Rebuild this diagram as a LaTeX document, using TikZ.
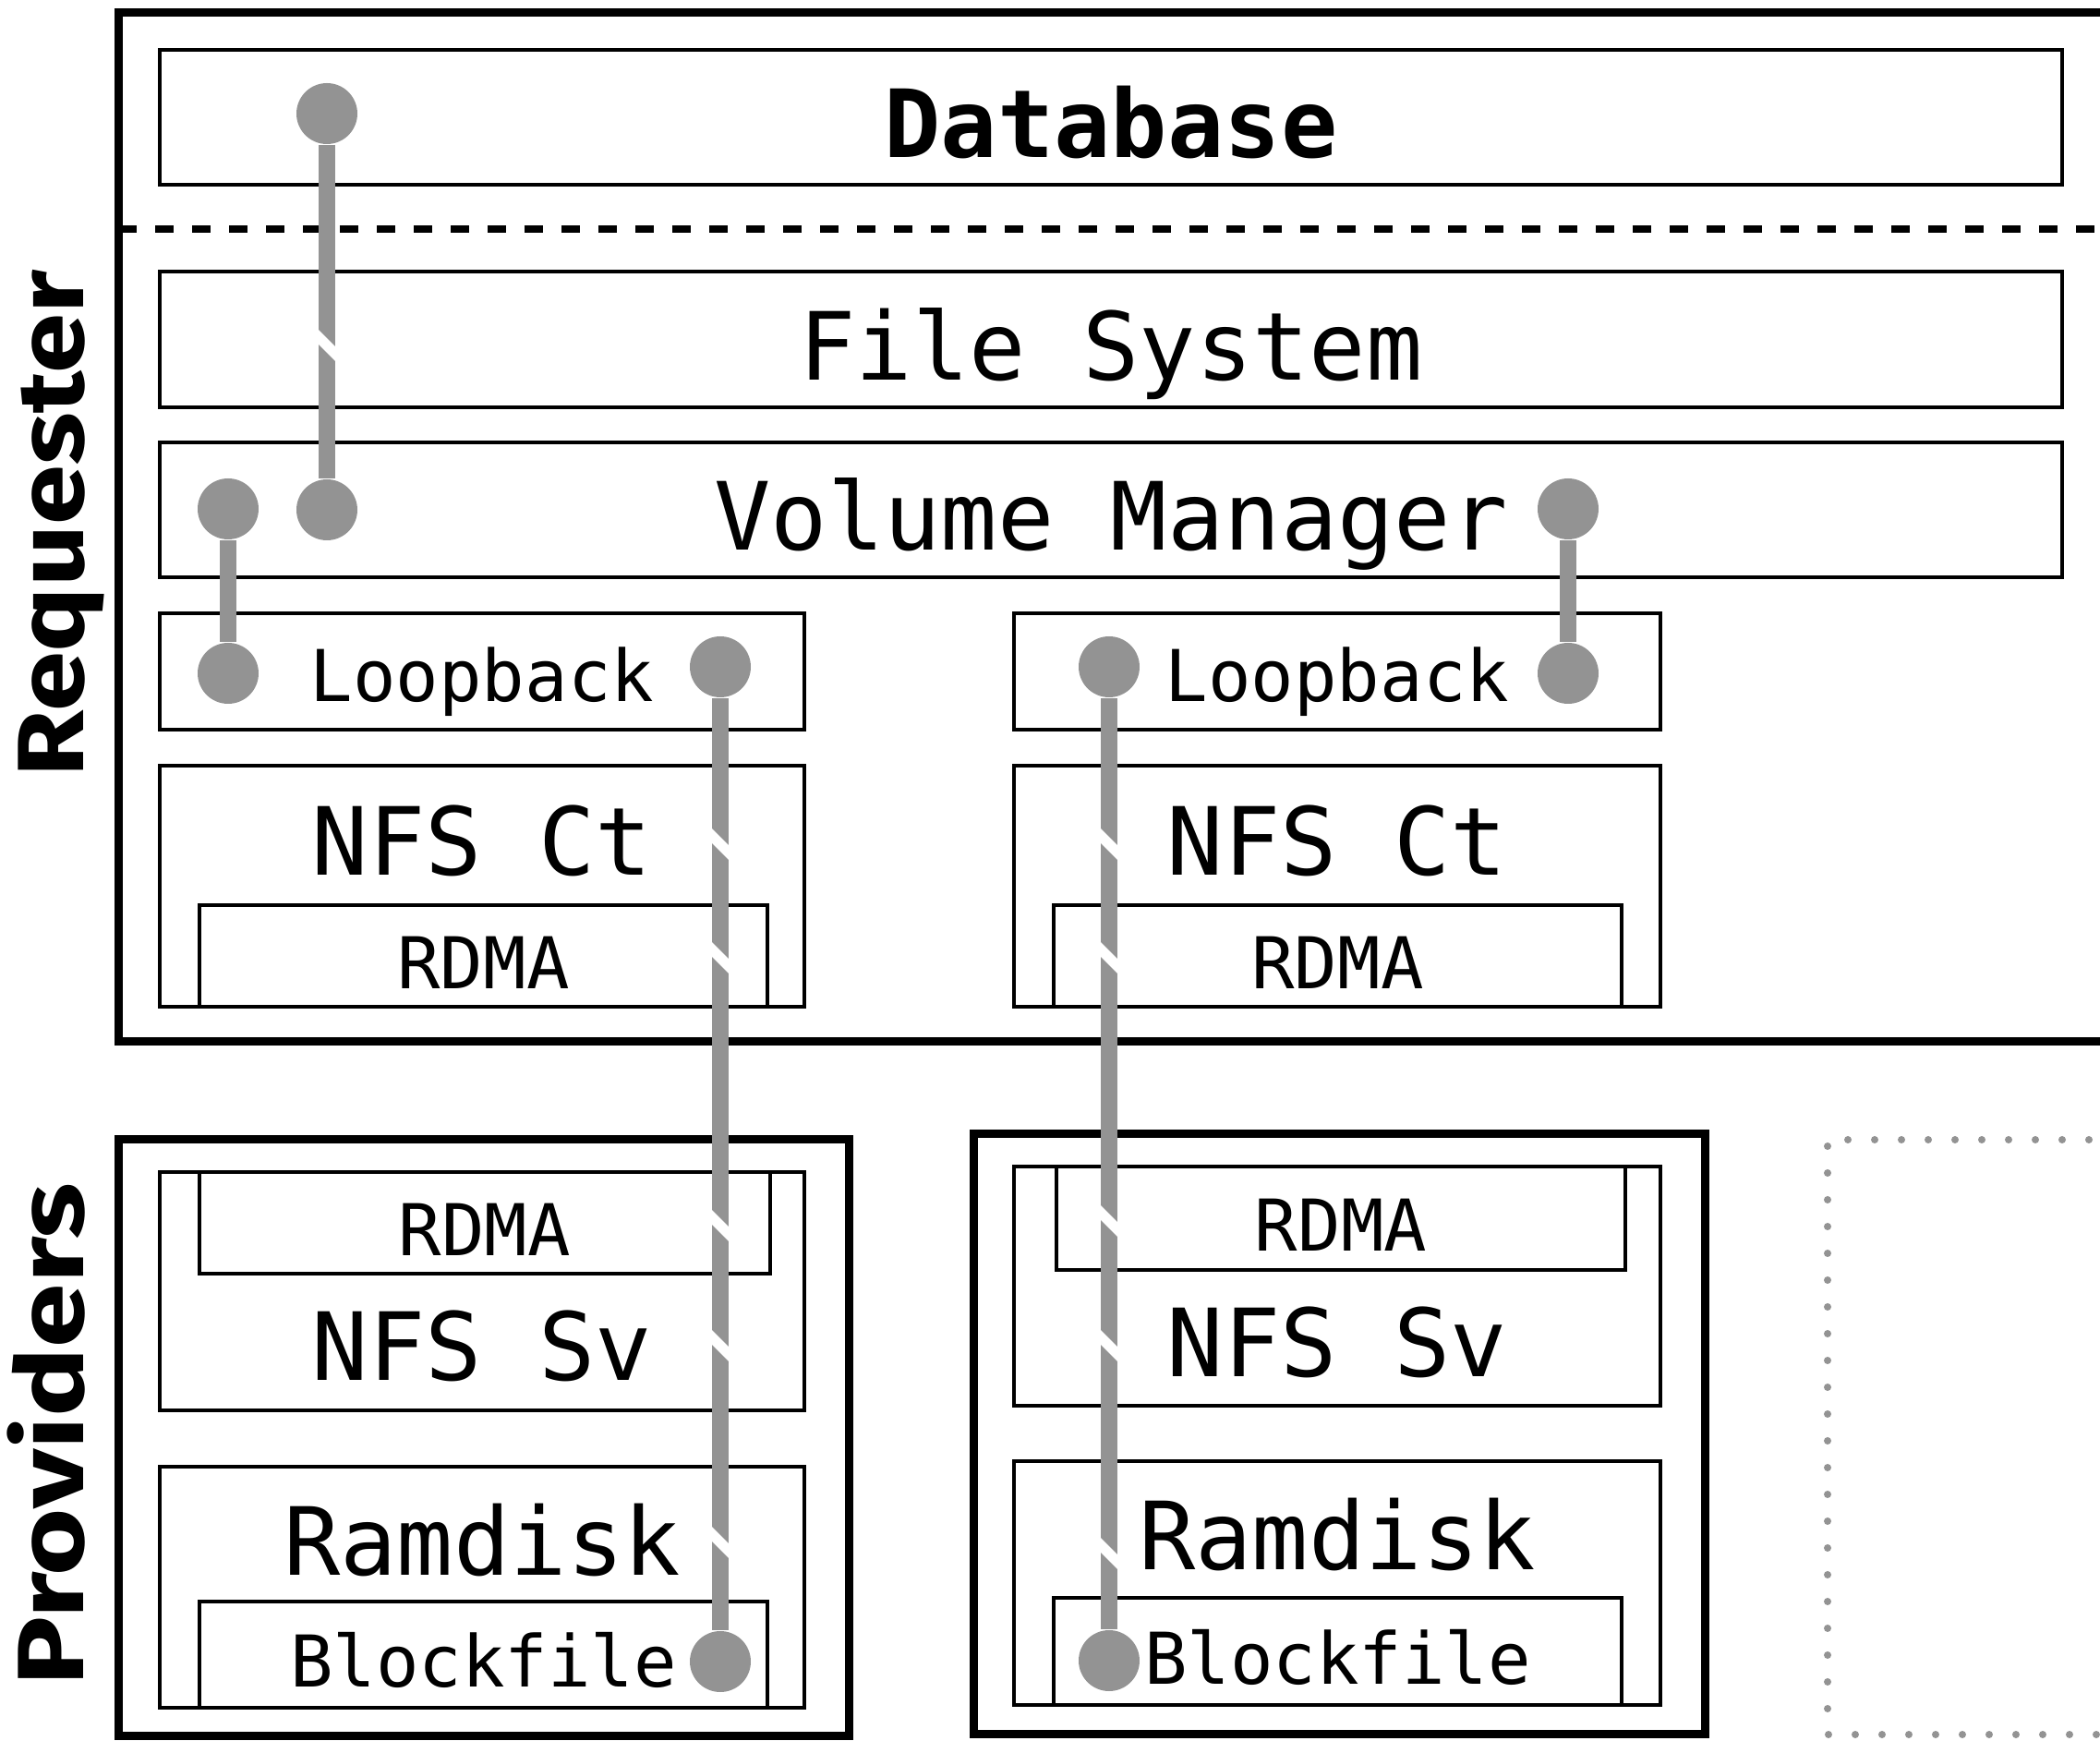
\documentclass[tikz,border=0pt]{standalone}
\usepackage{fontspec}
\setmonofont{DejaVu Sans Mono}
\newfontfamily\sidefont{Fira Sans}
\usetikzlibrary{positioning}

\definecolor{pipegray}{HTML}{939393}
\newcommand{\lgfont}{\fontsize{29}{32}\selectfont\ttfamily}
\newcommand{\smfont}{\fontsize{22}{24}\selectfont\ttfamily}

\begin{document}
\begin{tikzpicture}
        % frame of the page
        \clip (0,0) rectangle (22.74,18.84);

        \tikzstyle{outer} = [draw=black, line width=0.09cm]
        \tikzstyle{layer} = [rectangle, draw=black, line width=0.04cm, inner sep=0pt, font=\lgfont, text height=25pt, text depth=0pt]
        \tikzstyle{sublayer} = [layer, font=\smfont, text height=20pt]
        \tikzstyle{word} = [inner sep=0pt, font=\lgfont, text height=23.5pt, text depth=0pt]
        \tikzstyle{side} = [rotate=90, anchor=base, inner sep=0pt, font=\sidefont\bfseries\fontsize{29}{32}\selectfont]
        \tikzstyle{joint} = [circle, fill=pipegray, minimum size=0.66cm, inner sep=0pt]
        \tikzstyle{pipe} = [draw=pipegray, line width=0.18cm]
        \tikzstyle{brk} = [draw=white, line width=0.11cm]

        % 1. requester machine
        \draw[outer] (1.28,18.70) rectangle (23.2,7.56);
        \draw[line width=0.08cm, dash pattern=on 0.2cm off 0.2cm] (1.28,16.36) -- (23.2,16.36);
        \node[side, xscale=1.15] (req) at (0.90,13.17) {Requester};

        \node[layer, minimum width=20.60cm, minimum height=1.46cm, font=\lgfont\bfseries] (db) at (12.03,17.57) {Database};
        \node[layer, minimum width=20.60cm, minimum height=1.47cm] (fs) at (12.03,15.165) {File System};
        \node[layer, minimum width=20.60cm, minimum height=1.46cm] (vm) at (12.03,13.32) {Volume Manager};

        % left stack
        \node[sublayer, minimum width=6.98cm, minimum height=1.26cm, text height=18.5pt] (lbL) at (5.22,11.57) {Loopback};
        \node[layer, minimum width=6.98cm, minimum height=2.61cm] (ctL) at (5.22,9.245) {};
        \node[word] (ctLtxt) at (5.22,9.78) {NFS Ct};
        \node[sublayer, minimum width=6.15cm, minimum height=1.10cm] (rdmaCtL) at (5.235,8.49) {RDMA};

        % right stack
        \node[sublayer, minimum width=7.00cm, minimum height=1.26cm, text height=18.5pt] (lbR) at (14.48,11.57) {Loopback};
        \node[layer, minimum width=7.00cm, minimum height=2.61cm] (ctR) at (14.48,9.245) {};
        \node[word] (ctRtxt) at (14.48,9.78) {NFS Ct};
        \node[sublayer, minimum width=6.15cm, minimum height=1.10cm] (rdmaCtR) at (14.485,8.49) {RDMA};

        % 2. provider machines
        \draw[outer] (1.28,6.50) rectangle (9.19,0.05);
        \draw[outer] (10.54,6.56) rectangle (18.46,0.07);
        \node[side, xscale=1.23] (prov) at (0.90,3.31) {Providers};

        \node[layer, minimum width=6.98cm, minimum height=2.58cm] (svL) at (5.22,4.86) {};
        \node[sublayer, minimum width=6.18cm, minimum height=1.10cm] (rdmaSvL) at (5.25,5.60) {RDMA};
        \node[word] (svLtxt) at (5.22,4.31) {NFS Sv};
        \node[layer, minimum width=6.98cm, minimum height=2.61cm] (rdL) at (5.22,1.655) {};
        \node[word] (rdLtxt) at (5.22,2.20) {Ramdisk};
        \node[sublayer, minimum width=6.15cm, minimum height=1.15cm] (bfL) at (5.235,0.925) {Blockfile};

        \node[layer, minimum width=7.00cm, minimum height=2.59cm] (svR) at (14.48,4.915) {};
        \node[sublayer, minimum width=6.16cm, minimum height=1.12cm] (rdmaSvR) at (14.52,5.65) {RDMA};
        \node[word] (svRtxt) at (14.48,4.35) {NFS Sv};
        \node[layer, minimum width=7.00cm, minimum height=2.64cm] (rdR) at (14.48,1.70) {};
        \node[word] (rdRtxt) at (14.48,2.26) {Ramdisk};
        \node[sublayer, minimum width=6.15cm, minimum height=1.16cm] (bfR) at (14.485,0.96) {Blockfile};

        % empty slot for more providers
        \draw[pipegray, line width=0.08cm, line cap=round, dash pattern=on 0pt off 0.29cm] (23.2,6.50) -- (19.79,6.50) -- (19.79,0.06) -- (23.2,0.06);

        % 3. joints and pipes
        \node[joint] (jDb) at (3.54,17.61) {};
        \node[joint] (jVm1) at (3.54,13.32) {};
        \node[joint] (jVm0) at (2.47,13.33) {};
        \node[joint] (jLbL0) at (2.47,11.55) {};
        \node[joint] (jLbL1) at (7.80,11.62) {};
        \node[joint] (jBfL) at (7.80,0.85) {};
        \node[joint] (jLbR0) at (12.01,11.62) {};
        \node[joint] (jBfR) at (12.01,0.86) {};
        \node[joint] (jVm2) at (16.98,13.33) {};
        \node[joint] (jLbR1) at (16.98,11.55) {};

        \draw[pipe] (jDb) -- (jVm1);
        \draw[pipe] (jVm0) -- (jLbL0);
        \draw[pipe] (jLbL1) -- (jBfL);
        \draw[pipe] (jLbR0) -- (jBfR);
        \draw[pipe] (jVm2) -- (jLbR1);

        % breaks where a pipe passes through a layer
        \draw[brk] (3.54,15.10) ++(-0.14,0.14) -- ++(0.28,-0.28);
        \foreach \y in {9.70, 8.47, 5.57, 4.27, 2.14}
            \draw[brk] (7.80,\y) ++(-0.14,0.14) -- ++(0.28,-0.28);
        \foreach \y in {9.70, 8.47, 5.62, 4.27, 2.02}
            \draw[brk] (12.01,\y) ++(-0.14,0.14) -- ++(0.28,-0.28);

\end{tikzpicture}
\end{document}
